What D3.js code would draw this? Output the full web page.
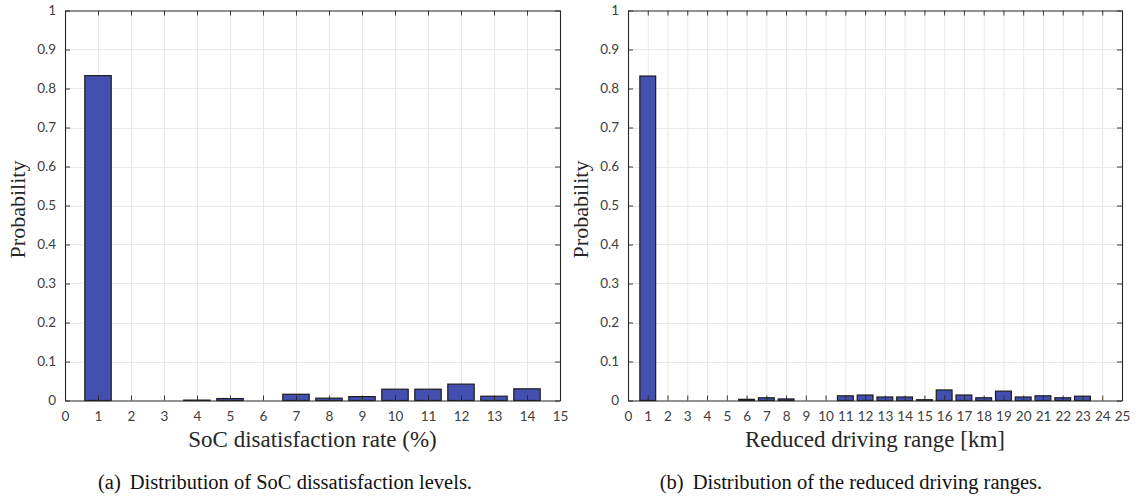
<!DOCTYPE html>
<html>
<head>
<meta charset="utf-8">
<script src="https://cdn.jsdelivr.net/npm/d3@7"></script>
<style>
  html, body { margin: 0; padding: 0; background: #fff; }
  svg { display: block; }
</style>
</head>
<body>
<svg id="chart" width="1136" height="498"></svg>
<script>
// Panel (a): SoC dissatisfaction levels
const socLevels = [1, 2, 3, 4, 5, 6, 7, 8, 9, 10, 11, 12, 13, 14];
const socProb   = [0.833, 0, 0, 0.001, 0.005, 0, 0.016, 0.006, 0.010, 0.029, 0.029, 0.042, 0.011, 0.030];
const socTicks  = d3.range(0, 16);

// Panel (b): reduced driving range
const rangeKm   = [1, 2, 3, 4, 5, 6, 7, 8, 9, 10, 11, 12, 13, 14, 15, 16, 17, 18, 19, 20, 21, 22, 23, 24];
const rangeProb = [0.832, 0, 0, 0, 0, 0.003, 0.007, 0.004, 0, 0, 0.012, 0.014, 0.009, 0.009, 0.002,
                   0.027, 0.014, 0.007, 0.024, 0.009, 0.012, 0.007, 0.011, 0];
const rangeTicks = d3.range(0, 26);

const probTicks = d3.range(0, 11).map(d => +(d / 10).toFixed(1));

const svg = d3.select("#chart");

const BAR_FILL = "#4450b0";
const BAR_EDGE = "#1c1c1c";
const AXIS_COL = "#262626";
const GRID_COL = "#e8e8e8";
const TICK_FONT = "Lato, 'Open Sans', sans-serif";
const SERIF = "'Liberation Serif', 'DejaVu Serif', serif";

function drawPanel(cfg) {
  const g = svg.append("g");
  const x = d3.scaleLinear().domain([0, cfg.xMax]).range([cfg.left, cfg.right]);
  const y = d3.scaleLinear().domain([0, 1]).range([cfg.bottom, cfg.top]);
  const unit = x(1) - x(0);
  const barW = unit * 0.8;

  // grid
  g.append("g").selectAll("line.gx").data(cfg.xTicks.slice(1, -1)).join("line")
    .attr("x1", d => x(d) + 0.5).attr("x2", d => x(d) + 0.5)
    .attr("y1", cfg.top).attr("y2", cfg.bottom)
    .attr("stroke", GRID_COL).attr("stroke-width", 1);
  g.append("g").selectAll("line.gy").data(probTicks.slice(1, -1)).join("line")
    .attr("x1", cfg.left).attr("x2", cfg.right)
    .attr("y1", d => Math.round(y(d)) + 0.5).attr("y2", d => Math.round(y(d)) + 0.5)
    .attr("stroke", GRID_COL).attr("stroke-width", 1);

  // bars
  g.append("g").selectAll("rect").data(cfg.cats.map((c, i) => ({ c, v: cfg.vals[i] })))
    .join("rect")
    .filter(d => d.v > 0)
    .attr("x", d => x(d.c) - barW / 2)
    .attr("width", barW)
    .attr("y", d => y(d.v))
    .attr("height", d => y(0) - y(d.v))
    .attr("fill", BAR_FILL)
    .attr("stroke", BAR_EDGE)
    .attr("stroke-width", 1.2);

  // axes (bottom and left with labels, top and right as box with inner ticks)
  const xAxis = d3.axisBottom(x).tickValues(cfg.xTicks).tickFormat(d3.format("d"))
    .tickSizeInner(-5).tickSizeOuter(0).tickPadding(11);
  const yAxis = d3.axisLeft(y).tickValues(probTicks).tickFormat(d => d === 0 || d === 1 ? d : d.toFixed(1))
    .tickSizeInner(-5).tickSizeOuter(0).tickPadding(9);
  const xTop = d3.axisTop(x).tickValues(cfg.xTicks).tickFormat("").tickSizeInner(-5).tickSizeOuter(0);
  const yRight = d3.axisRight(y).tickValues(probTicks).tickFormat("").tickSizeInner(-5).tickSizeOuter(0);

  const styleAxis = sel => {
    sel.selectAll("path").attr("stroke", AXIS_COL).attr("stroke-width", 1.1);
    sel.selectAll("line").attr("stroke", AXIS_COL).attr("stroke-width", 0.9);
    sel.selectAll("text").attr("fill", "#404040")
      .attr("font-family", TICK_FONT).attr("font-size", 13.5);
  };

  g.append("g").attr("transform", `translate(0,${cfg.bottom})`).call(xAxis).call(styleAxis);
  g.append("g").attr("transform", `translate(${cfg.left},0)`).call(yAxis).call(styleAxis);
  g.append("g").attr("transform", `translate(0,${cfg.top})`).call(xTop).call(styleAxis);
  g.append("g").attr("transform", `translate(${cfg.right},0)`).call(yRight).call(styleAxis);

  // axis titles
  g.append("text")
    .attr("x", (cfg.left + cfg.right) / 2).attr("y", cfg.bottom + 46)
    .attr("text-anchor", "middle")
    .attr("font-family", SERIF).attr("font-size", 23).attr("fill", "#262626")
    .text(cfg.xLabel);
  g.append("text")
    .attr("transform", `translate(${cfg.left - 40},${(cfg.top + cfg.bottom) / 2 + 4}) rotate(-90)`)
    .attr("text-anchor", "middle")
    .attr("font-family", SERIF).attr("font-size", 22).attr("fill", "#262626")
    .text("Probability");

  // caption
  const cap = g.append("text")
    .attr("x", cfg.captionX).attr("y", 489)
    .attr("text-anchor", "middle")
    .attr("font-family", SERIF).attr("font-size", 20.5).attr("fill", "#111");
  cap.append("tspan").text(cfg.captionTag);
  cap.append("tspan").attr("dx", 9).text(cfg.caption);
}

drawPanel({
  left: 65, right: 560, top: 10.5, bottom: 400.5,
  xMax: 15, xTicks: socTicks, cats: socLevels, vals: socProb,
  xLabel: "SoC disatisfaction rate (%)",
  captionX: 285, captionTag: "(a)", caption: "Distribution of SoC dissatisfaction levels."
});

drawPanel({
  left: 628, right: 1122, top: 10.5, bottom: 400.5,
  xMax: 25, xTicks: rangeTicks, cats: rangeKm, vals: rangeProb,
  xLabel: "Reduced driving range [km]",
  captionX: 851, captionTag: "(b)", caption: "Distribution of the reduced driving ranges."
});
</script>
</body>
</html>
